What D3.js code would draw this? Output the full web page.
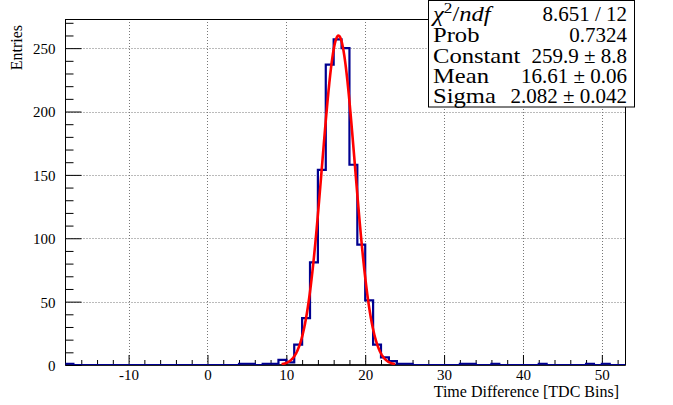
<!DOCTYPE html>
<html><head><meta charset="utf-8">
<script src="https://cdn.jsdelivr.net/npm/d3@7"></script>
<style>
body{margin:0;background:#fff}
svg{display:block}
text{font-family:"Liberation Serif","Times New Roman",serif;fill:#000}
</style>
</head><body>
<svg id="chart" width="673" height="405"></svg>
<script>
// ---------- data ----------
const xDomain = [-18, 53];
const binWidth = 1;
const binLowEdges = d3.range(-18, 53, binWidth);   // 71 bins, low edges -18 .. 52
const counts = [
  1, 0, 0, 0, 0, 0, 0, 0, 0, 0,      // -18 .. -9
  0, 0, 0, 0, 0, 0, 0, 0, 0, 0,      // -8 .. 1
  0, 0, 1, 1, 0, 1, 1, 4, 2, 16,     // 2 .. 11
  37, 81, 154, 237, 257, 250, 158, 95, 51, 16,   // 12 .. 21
  6, 3, 1, 1, 0, 0, 0, 0, 0, 0,      // 22 .. 31
  1, 1, 0, 0, 1, 0, 0, 0, 0, 0,      // 32 .. 41
  1, 0, 0, 0, 0, 0, 1, 0, 1, 0,      // 42 .. 51
  0                                   // 52
];
const xMajorTicks = [-10, 0, 10, 20, 30, 40, 50];
const xMinorTicks = [-16, -14, -12, -8, -6, -4, -2, 2, 4, 6, 8, 12, 14, 16, 18, 22, 24, 26, 28, 32, 34, 36, 38, 42, 44, 46, 48, 52];
const yMajorTicks = [0, 50, 100, 150, 200, 250];
const yMinorTicks = [10, 20, 30, 40, 60, 70, 80, 90, 110, 120, 130, 140, 160, 170, 180, 190, 210, 220, 230, 240, 260, 270];
const yMax = 273;
const fitConstant = 259.9, fitMean = 16.61, fitSigma = 2.082;
const fitRange = [9.4, 23.8];
const statLabels = ["chi2", "Prob", "Constant", "Mean", "Sigma"];
const statValues = ["8.651 / 12", "0.7324", "259.9 \u00b1 8.8", "16.61 \u00b1 0.06", "2.082 \u00b1 0.042"];
const xTitle = "Time Difference [TDC Bins]";
const yTitle = "Entries";

// ---------- layout ----------
const svg = d3.select("#chart");
const L = 65.5, R = 625.5, T = 19, B = 365;
const x = d3.scaleLinear().domain(xDomain).range([L, R]);
const y = d3.scaleLinear().domain([0, yMax]).range([B, T]);

svg.append("clipPath").attr("id", "clip")
  .append("rect").attr("x", L).attr("y", T).attr("width", R - L).attr("height", B - T);

// grid
const grid = svg.append("g").attr("stroke", "#777").attr("stroke-width", 1).attr("stroke-dasharray", "1,2");
grid.selectAll("line.gx").data(xMajorTicks).join("line")
  .attr("x1", d => Math.round(x(d)) + 0.5).attr("x2", d => Math.round(x(d)) + 0.5)
  .attr("y1", T).attr("y2", B);
grid.selectAll("line.gy").data(yMajorTicks.filter(d => d > 0)).join("line")
  .attr("y1", d => Math.round(y(d)) + 0.5).attr("y2", d => Math.round(y(d)) + 0.5)
  .attr("x1", L).attr("x2", R);

// frame
svg.append("rect").attr("x", L).attr("y", T + 0.5).attr("width", R - L).attr("height", B - T - 0.5)
  .attr("fill", "none").attr("stroke", "#000").attr("stroke-width", 1);

// axes
const fontSize = 15;
const xAxis = svg.append("g").attr("transform", `translate(0,${B})`)
  .call(d3.axisBottom(x).tickValues(xMajorTicks).tickSize(-10).tickPadding(4.5).tickFormat(d3.format("d")));
const xAxisMinor = svg.append("g").attr("transform", `translate(0,${B})`)
  .call(d3.axisBottom(x).tickValues(xMinorTicks).tickSize(-5).tickFormat(""));
const yAxis = svg.append("g").attr("transform", `translate(${L},0)`)
  .call(d3.axisLeft(y).tickValues(yMajorTicks).tickSize(-16).tickPadding(10).tickFormat(d3.format("d")));
const yAxisMinor = svg.append("g").attr("transform", `translate(${L},0)`)
  .call(d3.axisLeft(y).tickValues(yMinorTicks).tickSize(-8).tickFormat(""));
[xAxis, xAxisMinor, yAxis, yAxisMinor].forEach(g => {
  g.select(".domain").remove();
  g.selectAll("line").attr("stroke", "#000").attr("stroke-width", 1);
  g.selectAll("text").attr("font-family", "Liberation Serif").attr("font-size", fontSize).attr("fill", "#000");
});
xAxis.selectAll("text").text(d => d < 0 ? "-" + Math.abs(d) : d);
yAxis.selectAll("text").attr("dy", "0.36em");
// bottom axis line a bit heavier
svg.append("line").attr("x1", L).attr("x2", R).attr("y1", B).attr("y2", B).attr("stroke", "#000").attr("stroke-width", 1.5);

// histogram outline
const pts = [[x(xDomain[0]), y(0)]];
binLowEdges.forEach((lo, i) => {
  pts.push([x(lo), y(counts[i])]);
  pts.push([x(lo + binWidth), y(counts[i])]);
});
pts.push([x(xDomain[1]), y(0)]);
svg.append("path").attr("clip-path", "url(#clip)")
  .attr("d", d3.line()(pts))
  .attr("fill", "none").attr("stroke", "#000090").attr("stroke-width", 2.2)
  .attr("stroke-linejoin", "miter");

// fit curve (Gaussian with the fitted parameters shown in the box)
const fitXs = d3.range(fitRange[0], fitRange[1] + 1e-9, 0.05);
svg.append("path").attr("clip-path", "url(#clip)")
  .attr("d", d3.line().curve(d3.curveLinear)
     .x(v => x(v))
     .y(v => y(fitConstant * Math.exp(-0.5 * Math.pow((v - fitMean) / fitSigma, 2))))(fitXs))
  .attr("fill", "none").attr("stroke", "#ff0000").attr("stroke-width", 2.6);

// axis titles
svg.append("text").attr("x", 619).attr("y", 397).attr("text-anchor", "end")
  .attr("font-size", 16).text(xTitle);
svg.append("text").attr("transform", "translate(22,25) rotate(-90)").attr("text-anchor", "end")
  .attr("font-size", 16).text(yTitle);

// stats box
const box = svg.append("g");
box.append("rect").attr("x", 428.5).attr("y", 0.5).attr("width", 206).attr("height", 106.5)
  .attr("fill", "#fff").attr("stroke", "#000").attr("stroke-width", 1);
const rowY = [21, 42, 62.5, 83, 103];
const labelFont = 20.5, valueFont = 21;
statLabels.forEach((lab, i) => {
  const t = box.append("text").attr("transform", `translate(433,${rowY[i]}) scale(1.2,1)`)
    .attr("font-size", labelFont);
  if (lab === "chi2") {
    t.append("tspan").attr("font-style", "italic").text("\u03c7");
    t.append("tspan").attr("font-size", labelFont * 0.7).attr("dy", -8).text("2");
    t.append("tspan").attr("dy", 8).text("/");
    t.append("tspan").attr("font-style", "italic").text("ndf");
  } else {
    t.text(lab);
  }
  box.append("text").attr("x", 627).attr("y", rowY[i])
    .attr("text-anchor", "end").attr("font-size", valueFont).text(statValues[i]);
});
</script>
</body></html>
